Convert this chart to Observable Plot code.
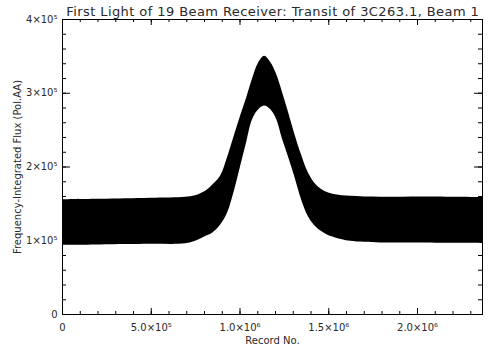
<!DOCTYPE html>
<html>
<head>
<meta charset="utf-8">
<script src="https://cdn.jsdelivr.net/npm/d3@7"></script>
<script src="https://cdn.jsdelivr.net/npm/@observablehq/plot@0.6"></script>
<style>
  html, body { margin: 0; padding: 0; background: #fff; }
  #chart { width: 500px; height: 357px; }
</style>
</head>
<body>
<div id="chart"></div>
<script>
const titleText = "First Light of 19 Beam Receiver: Transit of 3C263.1, Beam 1";
const xLabel = "Record No.";
const yLabel = "Frequency-Integrated Flux (Pol.AA)";

const recordNo = [0, 214000, 496000, 693000, 749000, 806000, 845000, 890000, 930000, 969000,
  1003000, 1037000, 1070000, 1104000, 1138000, 1172000, 1206000, 1239000, 1273000, 1307000,
  1347000, 1386000, 1431000, 1482000, 1538000, 1623000, 1792000, 2017000, 2242000, 2366000];
const upperFlux = [155600, 156200, 157600, 159000, 161000, 167100, 175300, 187500, 213000, 242900,
  268700, 293200, 319000, 340800, 350300, 342100, 325800, 301400, 274300, 245800,
  215900, 191500, 175300, 166400, 162400, 160300, 159000, 159400, 159000, 158600];
const lowerFlux = [93800, 94400, 95100, 95800, 99200, 105600, 110100, 120900, 137600, 167700,
  200300, 232600, 263600, 277200, 282600, 277800, 264900, 238100, 213700, 187900,
  155300, 132200, 117900, 109100, 103700, 99200, 97100, 97100, 96500, 96100];

const xTickValues = [0, 500000, 1000000, 1500000, 2000000];
const xTickLabels = ["0", "5.0×10⁵", "1.0×10⁶", "1.5×10⁶", "2.0×10⁶"];
const yTickValues = [0, 100000, 200000, 300000, 400000];
const yTickLabels = ["0", "1×10⁵", "2×10⁵", "3×10⁵", "4×10⁵"];

const xMax = 2366000;
const yMax = 400000;
const xMinor = d3.range(0, xMax, 100000);
const yMinor = d3.range(0, yMax + 1, 20000);

const W = 500, H = 357;
const mL = 62, mR = 18, mT = 19, mB = 43;
const pw = W - mL - mR, ph = H - mT - mB;

const table = recordNo.map((r, i) => ({r, lo: lowerFlux[i], hi: upperFlux[i]}));

const font = "DejaVu Sans, sans-serif";
const txt = "#2a2a2a";

const chart = Plot.plot({
  width: W, height: H,
  marginLeft: mL, marginRight: mR, marginTop: mT, marginBottom: mB,
  style: {fontFamily: font, background: "#fff"},
  x: {domain: [0, xMax]},
  y: {domain: [0, yMax]},
  marks: [
    Plot.areaY(table, {x: "r", y1: "lo", y2: "hi", fill: "black", curve: "catmull-rom"}),
    Plot.frame({stroke: "black"}),
    Plot.tickX(xMinor, {x: d => d, insetTop: ph - 3, stroke: "black"}),
    Plot.tickX(xMinor, {x: d => d, insetBottom: ph - 3, stroke: "black"}),
    Plot.tickX(xTickValues, {x: d => d, insetTop: ph - 6, stroke: "black"}),
    Plot.tickX(xTickValues, {x: d => d, insetBottom: ph - 6, stroke: "black"}),
    Plot.tickY(yMinor, {y: d => d, insetRight: pw - 4, stroke: "black"}),
    Plot.tickY(yMinor, {y: d => d, insetLeft: pw - 4, stroke: "black"}),
    Plot.tickY(yTickValues, {y: d => d, insetRight: pw - 8, stroke: "black"}),
    Plot.tickY(yTickValues, {y: d => d, insetLeft: pw - 8, stroke: "black"}),
    Plot.axisX(xTickValues, {anchor: "bottom", tickSize: 0, tickPadding: 9, fontSize: 10, label: null,
      tickFormat: d => xTickLabels[xTickValues.indexOf(d)], fill: txt}),
    Plot.axisY(yTickValues, {anchor: "left", tickSize: 0, tickPadding: 5, fontSize: 10, label: null,
      tickFormat: d => yTickLabels[yTickValues.indexOf(d)], fill: txt}),
    Plot.text([titleText], {frameAnchor: "top", dy: -13, fontSize: 13, fill: txt, text: d => d, className: "ttl"}),
    Plot.text([xLabel], {frameAnchor: "bottom", dy: 29, fontSize: 10, fill: txt, text: d => d}),
    Plot.text([yLabel], {frameAnchor: "left", textAnchor: "middle", dx: -45, rotate: -90, fontSize: 10, fill: txt, text: d => d})
  ]
});
document.getElementById("chart").appendChild(chart);

// widen the title to the reference's span (about 413 px) with letter spacing
const t = chart.querySelector(".ttl text");
if (t) {
  const w = t.getComputedTextLength();
  const sp = Math.max(0, (413 - w) / (titleText.length));
  t.style.letterSpacing = sp.toFixed(2) + "px";
  t.setAttribute("dx", (sp / 2).toFixed(2));
}
</script>
</body>
</html>
